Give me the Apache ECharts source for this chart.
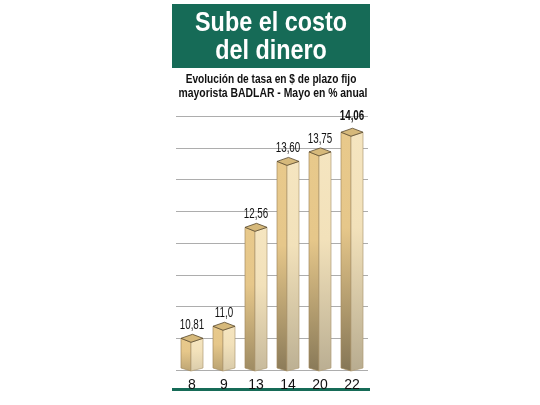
<!DOCTYPE html>
<html>
<head>
<meta charset="utf-8">
<script src="https://cdn.jsdelivr.net/npm/echarts@6/dist/echarts.min.js"></script>
<style>
  html, body { margin: 0; padding: 0; background: #fff; }
  #chart { width: 540px; height: 405px; }
</style>
</head>
<body>
<div id="chart"></div>
<script>
// dias de mayo
var days = ['8', '9', '13', '14', '20', '22'];
// tasa BADLAR en % anual
var rates = [10.81, 11.0, 12.56, 13.60, 13.75, 14.06];
// etiquetas tal como se ven
var rateLabels = ['10,81', '11,0', '12,56', '13,60', '13,75', '14,06'];

var yMin = 10.31;
var yMax = 14.316;
var font = '"Liberation Sans", Arial, sans-serif';
var green = '#166b57';

// mezcla de dos colores hex
function mix(a, b, t) {
    var pa = parseInt(a.slice(1), 16), pb = parseInt(b.slice(1), 16);
    var r = Math.round(((pa >> 16) & 255) * (1 - t) + ((pb >> 16) & 255) * t);
    var g = Math.round(((pa >> 8) & 255) * (1 - t) + ((pb >> 8) & 255) * t);
    var bl = Math.round((pa & 255) * (1 - t) + (pb & 255) * t);
    return 'rgb(' + r + ',' + g + ',' + bl + ')';
}

function renderBar(params, api) {
    var top = api.coord([api.value(0), api.value(1)]);
    var base = api.coord([api.value(0), yMin]);
    var w = 22, d = 4;
    var cx = top[0];
    var x0 = cx - w / 2, xm = cx - 1, x1 = cx + w / 2;
    var yt = top[1], yb = base[1] - 0.5;
    var h = yb - yt;
    var k = Math.min(1, h / 230);
    var leftDark = mix('#e8c98b', '#857656', 0.35 + 0.65 * k);
    var rightDark = mix('#f5e5c0', '#b8ac90', 0.35 + 0.65 * k);

    var leftFill = new echarts.graphic.LinearGradient(0, 0, 0, 1, [
        { offset: 0, color: '#e8c98b' },
        { offset: 0.4, color: '#e6c78a' },
        { offset: 1, color: leftDark }
    ]);
    var rightFill = new echarts.graphic.LinearGradient(0, 0, 0, 1, [
        { offset: 0, color: '#f5e5c0' },
        { offset: 0.4, color: '#f2e1ba' },
        { offset: 1, color: rightDark }
    ]);

    var idx = params.dataIndex;
    var last = idx === rates.length - 1;
    return {
        type: 'group',
        children: [
            {
                type: 'polygon',
                shape: { points: [[x0, yt], [xm, yt + d], [xm, yb + 1.5], [x0, yb - 1.5]] },
                style: { fill: leftFill, stroke: '#a48b5f', lineWidth: 0.7 }
            },
            {
                type: 'polygon',
                shape: { points: [[xm, yt + d], [x1, yt], [x1, yb - 1.5], [xm, yb + 1.5]] },
                style: { fill: rightFill, stroke: '#b09c75', lineWidth: 0.7 }
            },
            {
                type: 'polygon',
                shape: { points: [[x0, yt], [cx + 0.5, yt - d], [x1, yt], [xm, yt + d]] },
                style: { fill: '#d6b97b', stroke: '#57472d', lineWidth: 0.8 }
            },
            {
                type: 'text',
                x: cx,
                y: yt - (last ? 12.5 : 9) + 3,
                scaleX: 0.7,
                style: {
                    text: rateLabels[idx],
                    x: 0,
                    y: 0,
                    align: 'center',
                    verticalAlign: 'bottom',
                    fontFamily: font,
                    fontSize: 14,
                    fontWeight: last ? 'bold' : 'normal',
                    fill: '#111'
                }
            }
        ]
    };
}

function headText(text, x, y, size, scale, color) {
    return {
        type: 'text',
        x: x,
        y: y,
        scaleX: scale,
        style: {
            text: text,
            x: 0,
            y: 0,
            align: 'center',
            verticalAlign: 'middle',
            fontFamily: font,
            fontWeight: 'bold',
            fontSize: size,
            fill: color
        }
    };
}

var chart = echarts.init(document.getElementById('chart'), null, { renderer: 'canvas' });
var option = {
    backgroundColor: '#fff',
    animation: false,
    graphic: [
        {
            type: 'rect',
            shape: { x: 172, y: 4, width: 198, height: 64 },
            style: { fill: green }
        },
        headText('Sube el costo', 271, 23.5, 27.5, 0.85, '#fff'),
        headText('del dinero', 271, 51.2, 27.5, 0.85, '#fff'),
        headText('Evolución de tasa en $ de plazo fijo', 271, 79.6, 13, 0.78, '#111'),
        headText('mayorista BADLAR - Mayo en % anual', 273, 93.4, 13, 0.8, '#111'),
        {
            type: 'rect',
            shape: { x: 172, y: 388, width: 198, height: 3 },
            style: { fill: green }
        }
    ],
    grid: { left: 176, right: 172, top: 116, bottom: 35 },
    xAxis: {
        type: 'category',
        data: days,
        axisLine: { show: false },
        axisTick: { show: false },
        axisLabel: {
            margin: 8,
            color: '#111',
            fontFamily: font,
            fontSize: 14
        }
    },
    yAxis: [
        {
            type: 'value',
            min: yMin,
            max: yMax,
            show: false,
            splitLine: { show: false }
        },
        {
            type: 'value',
            min: 0,
            max: 8,
            interval: 1,
            position: 'left',
            axisLine: { show: false },
            axisTick: { show: false },
            axisLabel: { show: false },
            splitLine: { lineStyle: { color: '#adadad', width: 1 } }
        }
    ],
    series: [
        {
            type: 'custom',
            yAxisIndex: 0,
            renderItem: renderBar,
            encode: { x: 0, y: 1 },
            data: days.map(function (d, i) { return [i, rates[i]]; }),
            z: 3
        }
    ]
};
chart.setOption(option);
</script>
</body>
</html>
